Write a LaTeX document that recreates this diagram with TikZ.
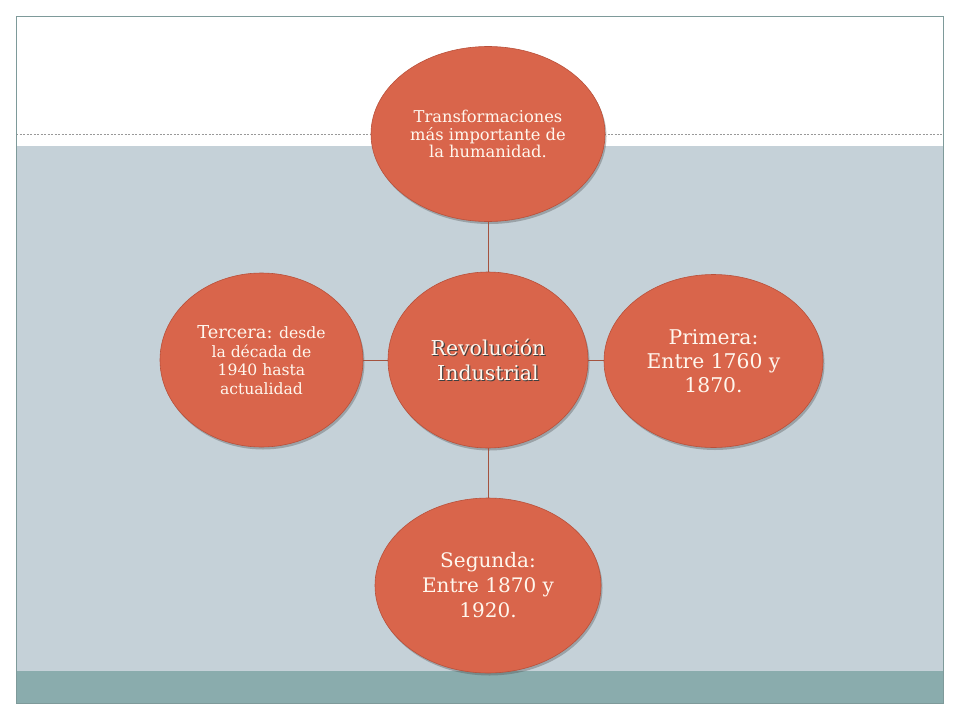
\documentclass[tikz,border=0pt]{standalone}
\usepackage{fontspec}
\setmainfont{DejaVu Serif}
\usetikzlibrary{shapes.geometric,shadows}
\definecolor{bgblue}{HTML}{C5D1D8}
\definecolor{band}{HTML}{8AACAD}
\definecolor{frame}{HTML}{7E9A9A}
\definecolor{ovalfill}{HTML}{D9654B}
\definecolor{ovaldraw}{HTML}{B9503A}
\definecolor{linkcol}{HTML}{A4533F}
\definecolor{txtcol}{HTML}{FFF7EE}
\tikzset{
  oval/.style={ellipse, fill=ovalfill, draw=ovaldraw, line width=0.6pt, inner sep=0pt,
    text=txtcol, align=center,
    drop shadow={opacity=0.35, shadow xshift=1.5pt, shadow yshift=-2.5pt, fill=black!70}},
  link/.style={draw=linkcol, line width=0.8pt}
}
\begin{document}
\begin{tikzpicture}[x=1pt,y=-1pt]
\useasboundingbox (0,0) rectangle (960,720);
\fill[white] (0,0) rectangle (960,720);
% backgrounds
\fill[bgblue] (16,146) rectangle (943,671);
\fill[band] (16,671) rectangle (943,703);
\draw[gray!80, line width=0.6pt, dash pattern=on 2pt off 1.5pt] (16,134) -- (943,134);
\draw[frame, line width=1pt] (16,16) rectangle (943,703);
% ellipses
\node[oval, minimum width=234pt, minimum height=175pt, font=\fontsize{16.3}{17.5}\selectfont] (top) at (488,134)
  {Transformaciones\\más importante de\\la humanidad.};
\node[oval, minimum width=200pt, minimum height=176pt] (center) at (488,360) {};
\node[text=black!75, align=center, font=\fontsize{20.5}{25}\selectfont] (centershadow) at (489.2,361.2)
  {Revolución\\Industrial};
\node[text=txtcol, align=center, font=\fontsize{20.5}{25}\selectfont] (centertext) at (488,360)
  {Revolución\\Industrial};
\node[oval, minimum width=219pt, minimum height=173pt, font=\fontsize{20.3}{24}\selectfont] (right) at (713.5,361)
  {Primera:\\Entre 1760 y\\1870.};
\node[oval, minimum width=226pt, minimum height=175pt, font=\fontsize{20}{25}\selectfont] (bottom) at (488,585.5)
  {Segunda:\\Entre 1870 y\\1920.};
\node[oval, minimum width=203pt, minimum height=174pt, font=\fontsize{15.6}{18.5}\selectfont] (left) at (261.5,360)
  {{\fontsize{17.8}{18.5}\selectfont Tercera:} desde\\la década de\\1940 hasta\\actualidad};
% connectors
\draw[link] (top.south) -- (center.north);
\draw[link] (center.south) -- (bottom.north);
\draw[link] (left.east) -- (center.west);
\draw[link] (center.east) -- (center.east -| right.west);
\end{tikzpicture}
\end{document}
